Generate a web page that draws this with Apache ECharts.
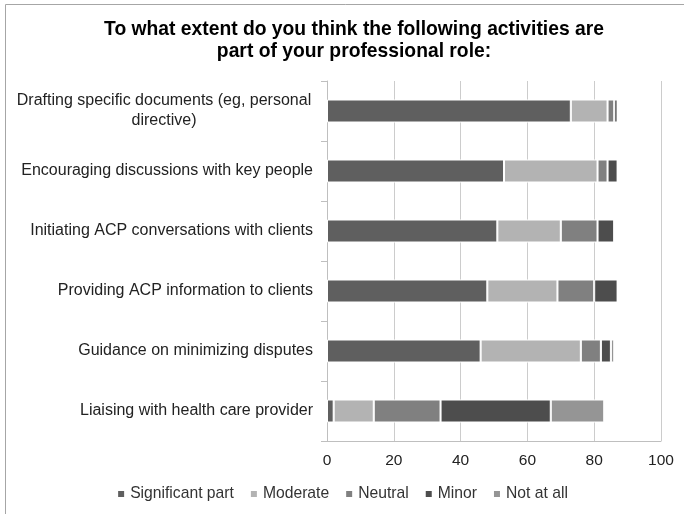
<!DOCTYPE html>
<html>
<head>
<meta charset="utf-8">
<script src="https://cdn.jsdelivr.net/npm/echarts@6/dist/echarts.min.js"></script>
<style>html,body{margin:0;padding:0;background:#fff}#c{width:684px;height:514px}</style>
</head>
<body>
<div id="c"></div>
<script>
const categories = [
  "Drafting specific documents (eg, personal directive)",
  "Encouraging discussions with key people",
  "Initiating ACP conversations with clients",
  "Providing ACP information to clients",
  "Guidance on minimizing disputes",
  "Liaising with health care provider"
];
const seriesNames = ["Significant part", "Moderate", "Neutral", "Minor", "Not at all"];
const significant = [73, 53, 51, 48, 46, 2];
const moderate    = [11, 28, 19, 21, 30, 12];
const neutral     = [2, 3, 11, 11, 6, 20];
const minor       = [1, 3, 5, 7, 3, 33];
const notAtAll    = [0, 0, 0, 0, 1, 16];
const xTicks = [0, 20, 40, 60, 80, 100];

const colors = ["#5f5f5f", "#b3b3b3", "#808080", "#4d4d4d", "#959595"];
const values = [significant, moderate, neutral, minor, notAtAll];
const FONT = "'Liberation Sans', Arial, sans-serif";

const chart = echarts.init(document.getElementById('c'));
chart.setOption({
  animation: false,
  color: colors,
  title: {
    text: "To what extent do you think the following activities are\npart of your professional role:",
    left: 349, top: 14, textAlign: 'center',
    textStyle: { fontFamily: FONT, fontSize: 19.3, fontWeight: 'bold', color: '#000', lineHeight: 22 }
  },
  graphic: [{
    type: 'rect', shape: { x: 5.5, y: 4.5, width: 700, height: 600 },
    style: { fill: 'none', stroke: '#a6a6a6', lineWidth: 1 }, silent: true
  }],
  legend: {
    bottom: 7, left: 'center',
    itemWidth: 8, itemHeight: 8, itemGap: 15,
    icon: 'rect',
    textStyle: { fontFamily: FONT, fontSize: 15.7, color: '#333' },
    data: seriesNames
  },
  grid: { left: 327, right: 23, top: 81, bottom: 73, containLabel: false },
  xAxis: {
    type: 'value', min: xTicks[0], max: xTicks[xTicks.length - 1], interval: 20,
    axisLine: { show: true, lineStyle: { color: '#bfbfbf' } },
    axisTick: { show: false },
    splitLine: { show: true, lineStyle: { color: '#cccccc' } },
    axisLabel: { fontFamily: FONT, fontSize: 15.5, color: '#222', margin: 12 }
  },
  yAxis: {
    type: 'category', inverse: true, data: categories,
    axisLine: { show: true, lineStyle: { color: '#bfbfbf' } },
    axisTick: { show: true, length: 6, lineStyle: { color: '#bfbfbf' } },
    axisLabel: {
      fontFamily: FONT, fontSize: 16, color: '#222', margin: 14,
      formatter: function (v) {
        if (v.indexOf('(eg,') >= 0) {
          const i = v.indexOf(' directive');
          return '{c|' + v.slice(0, i) + '}\n{c|' + v.slice(i + 1) + '}';
        }
        return v;
      },
      rich: { c: { fontFamily: FONT, fontSize: 16, color: '#222', width: 298, align: 'center', lineHeight: 20 } }
    }
  },
  series: seriesNames.map((n, k) => ({
    name: n, type: 'bar', stack: 'total', barWidth: 23,
    itemStyle: { color: colors[k], borderColor: '#fff', borderWidth: 1 },
    data: values[k]
  }))
});
</script>
</body>
</html>
